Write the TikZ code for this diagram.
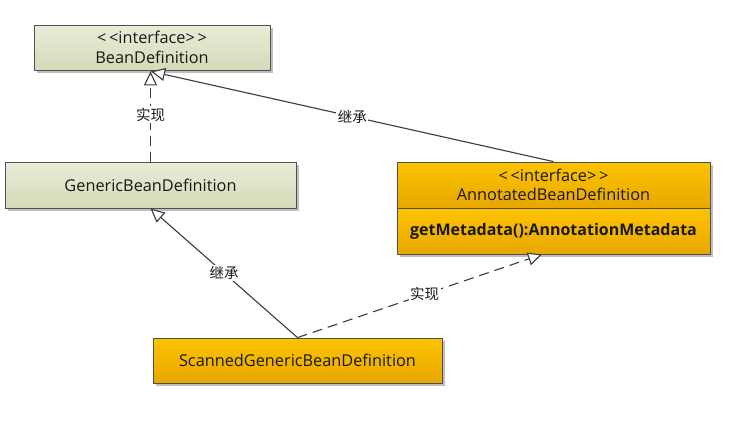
\documentclass[tikz,border=0pt]{standalone}
\usepackage{fontspec}
\setmainfont{Open Sans}
\newfontfamily\cjk{Noto Sans CJK SC}
\usetikzlibrary{arrows.meta,calc,shadows}
\definecolor{grtop}{HTML}{E8EDD8}
\definecolor{grbot}{HTML}{D3DBB8}
\definecolor{ortop}{HTML}{FDC400}
\definecolor{orbot}{HTML}{E8A700}
\definecolor{edge}{HTML}{505050}
\definecolor{linec}{HTML}{3A3A3A}
\begin{document}
\begin{tikzpicture}[x=1pt,y=-1pt,
  box/.style={draw=edge, line width=0.8pt, inner sep=0pt, align=center,
    font=\fontsize{16.3}{19.5}\selectfont, text=black!90,
    drop shadow={shadow xshift=3pt, shadow yshift=-3pt, opacity=0.25, fill=black}},
  greenbox/.style={box, top color=grtop, bottom color=grbot},
  orangebox/.style={box, top color=ortop, bottom color=orbot},
  rel/.style={draw=linec, line width=1.1pt, -{Triangle[length=14pt, width=13pt, fill=white, line width=1.1pt]}},
  realize/.style={rel, dash pattern=on 10pt off 6pt},
  lbl/.style={fill=white, inner sep=1.5pt, font=\cjk\fontsize{14.5}{16}\selectfont, text=black!90}
]
\useasboundingbox (0,0) rectangle (729,426);
\node[greenbox, minimum width=236pt, minimum height=45pt] (bd) at (152,47.5)
  {<\,<interface>\,>\\BeanDefinition};
\node[greenbox, minimum width=291pt, minimum height=46pt] (gen) at (150.5,185)
  {GenericBeanDefinition};
\node[orangebox, minimum width=313pt, minimum height=46pt] (annTop) at (553.5,185)
  {<\,<interface>\,>\\AnnotatedBeanDefinition};
\node[orangebox, minimum width=313pt, minimum height=46pt, font=\bfseries\fontsize{16}{19}\selectfont] (annBot) at (553.5,231)
  {getMetadata():AnnotationMetadata};
\node[orangebox, minimum width=289pt, minimum height=45pt] (scan) at (297.5,360.5)
  {ScannedGenericBeanDefinition};
\coordinate (bdtip) at ($(bd.south)+(-1,1)$);
\coordinate (anntip) at ($(annBot.south)+(-11.5,0)$);
\draw[realize] (gen.north) -- node[lbl, pos=0.52] {实现} (gen.north |- bdtip);
\draw[rel] (annTop.north) -- node[lbl] {继承} (bdtip);
\draw[rel] (scan.north) -- node[lbl] {继承} (gen.south);
\draw[realize] (scan.north) -- node[lbl, pos=0.52] {实现} (anntip);
\end{tikzpicture}
\end{document}
